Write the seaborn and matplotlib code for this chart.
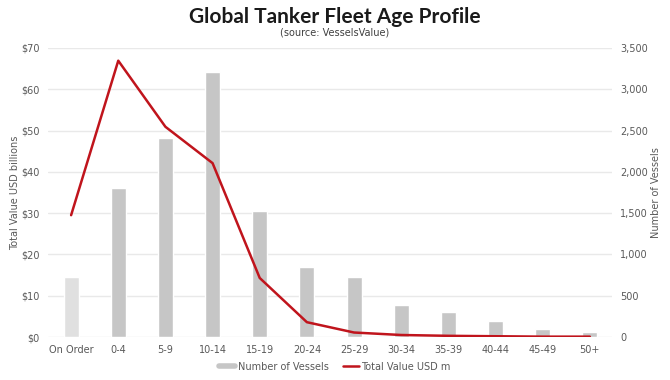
import seaborn as sns
import matplotlib.pyplot as plt
import matplotlib.lines as mlines
import pandas as pd
import numpy as np

# data
age_groups = ['On Order', '0-4', '5-9', '10-14', '15-19', '20-24',
              '25-29', '30-34', '35-39', '40-44', '45-49', '50+']
num_vessels = [730, 1800, 2410, 3210, 1530, 850, 730, 390, 300, 190, 95, 65]
total_value = [29.5, 66.9, 50.9, 42.1, 14.3, 3.6, 1.1, 0.5, 0.3, 0.2, 0.1, 0.1]

bar_colors = ['#e0e0e0'] + ['#c6c6c6'] * (len(age_groups) - 1)
line_color = '#c0141c'
txt = '#595959'

df = pd.DataFrame({"age": age_groups, "vessels": num_vessels, "value": total_value})
df["pos"] = np.arange(len(df))

sns.set_style("white")
plt.rcParams['font.family'] = ['DejaVu Sans']

fig = plt.figure(figsize=(6.7, 3.8), dpi=100)
ax = fig.add_axes([48 / 670, 0.113, (612 - 48) / 670, 0.761])
ax2 = ax.twinx()

# bars on the right axis
sns.barplot(data=df, x="age", y="vessels", hue="age", palette=bar_colors,
            legend=False, width=0.32, ax=ax2, zorder=2)
ax2.set_ylim(0, 3500)
ax2.set_yticks(range(0, 3501, 500))
ax2.set_yticklabels([f"{v:,}" for v in range(0, 3501, 500)])
ax2.grid(axis='y', color='#e9e9e9', linewidth=1, zorder=0)
ax2.set_axisbelow(True)
ax2.set_ylabel("Number of Vessels", fontsize=7, color=txt, labelpad=2)

# line on the left axis, drawn above the bars
sns.lineplot(data=df, x="pos", y="value", color=line_color, linewidth=1.8, ax=ax)
ax.set_zorder(ax2.get_zorder() + 1)
ax.patch.set_visible(False)
ax.set_ylim(0, 70)
ax.set_yticks(range(0, 71, 10))
ax.set_yticklabels([f"${v}" for v in range(0, 71, 10)])
ax.set_ylabel("Total Value USD billions", fontsize=7, color=txt, labelpad=1)
ax.set_xlabel("")
ax.set_xticks(df["pos"])
ax.set_xticklabels(age_groups)
ax.set_xlim(-0.49, 11.47)

for a in (ax, ax2):
    for s in a.spines.values():
        s.set_visible(False)
    a.tick_params(axis='both', length=0, labelsize=7, colors=txt, pad=6)

fig.text(0.5, 0.955, "Global Tanker Fleet Age Profile", ha='center', va='center',
         fontsize=15, fontweight='bold', color='#1a1a1a', family=['Lato', 'DejaVu Sans'])
fig.text(0.5, 0.915, "(source: VesselsValue)", ha='center', va='center',
         fontsize=7, color='#404040')

handles = [mlines.Line2D([], [], color='#c6c6c6', linewidth=4),
           mlines.Line2D([], [], color=line_color, linewidth=1.8)]
fig.legend(handles, ["Number of Vessels", "Total Value USD m"], loc='center',
           bbox_to_anchor=(0.5, 0.035), ncol=2, frameon=False, fontsize=7,
           labelcolor=txt, handlelength=1.6, handletextpad=0.3, columnspacing=1.5)

plt.savefig("out.png", dpi=100)
plt.close()
